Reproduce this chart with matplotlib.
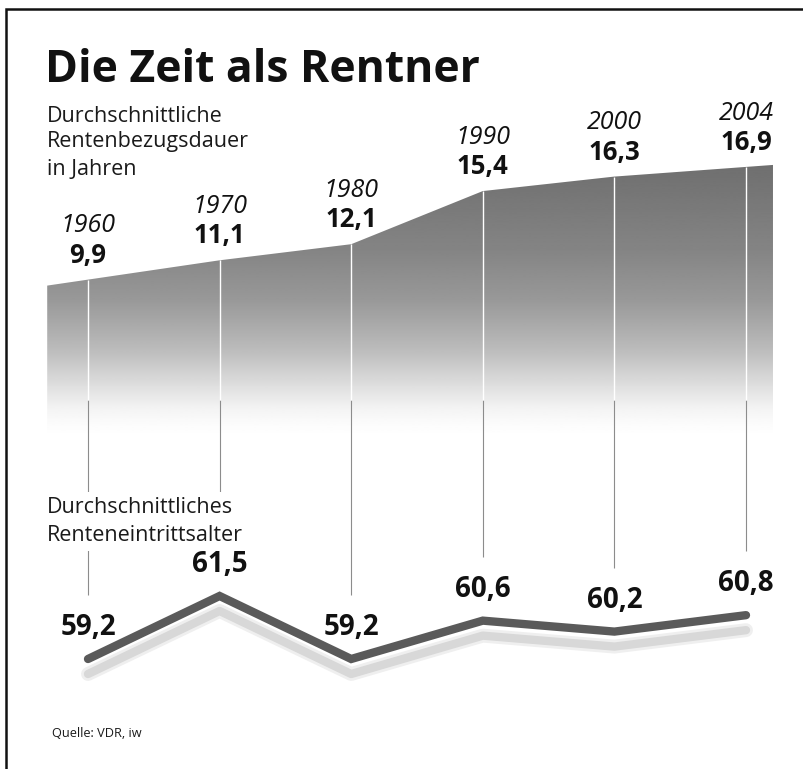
import numpy as np
import matplotlib.pyplot as plt
from matplotlib.lines import Line2D
from matplotlib.transforms import ScaledTranslation

plt.rcParams["font.family"] = ["Open Sans", "DejaVu Sans"]

# Daten
jahre = ["1960", "1970", "1980", "1990", "2000", "2004"]
bezugsdauer = [9.9, 11.1, 12.1, 15.4, 16.3, 16.9]
eintrittsalter = [59.2, 61.5, 59.2, 60.6, 60.2, 60.8]

W, H = 804, 769


def fx(px):
    return px / W


def fy(py):
    return 1 - py / H


fig = plt.figure(figsize=(W / 100, H / 100), dpi=100)
fig.patch.set_facecolor("white")

# Rahmen oben und links
fig.add_artist(Line2D([fx(6.5), fx(6.5), 1.0], [0.0, fy(8.5), fy(8.5)],
                      color="#111111", lw=1.8, solid_joinstyle="miter"))

x = np.arange(len(jahre))
xlim = (-88 / 131.6, 5 + 58 / 131.6)
ylim_up = ((439 - 769) / 16.1, 439 / 16.1)
ylim_low = (59.2 - 110 / 27.4, 59.2 + 659 / 27.4)

ax_up = fig.add_axes([0, 0, 1, 1])
ax_low = fig.add_axes([0, 0, 1, 1])
for ax in (ax_up, ax_low):
    ax.axis("off")
    ax.patch.set_visible(False)

# obere Fläche mit Verlauf
b = np.array(bezugsdauer)
x_l, x_r = -0.31, 5.205
v_l = b[0] + x_l * (b[1] - b[0])
v_r = b[-1] + (x_r - 5) * (b[-1] - b[-2])
xs = np.concatenate([[x_l], x, [x_r]])
tops = np.concatenate([[v_l], b, [v_r]])
v_unten = 0.2
poly = ax_up.fill_between(xs, v_unten, tops, facecolor="none", edgecolor="none")

vs = np.linspace(v_unten, 17.4, 400)
grau = np.interp(vs, [0.2, 1.0, 2.0, 3.2, 5.5, 8.6, 11.7, 17.4],
                 [1.0, 0.985, 0.95, 0.88, 0.74, 0.60, 0.52, 0.43])
img = ax_up.imshow(grau[:, None], extent=[x_l, x_r, v_unten, 17.4], origin="lower",
                   aspect="auto", cmap="gray", vmin=0, vmax=1, zorder=2,
                   interpolation="bilinear")
img.set_clip_path(poly.get_paths()[0], transform=ax_up.transData)

for ax in (ax_up, ax_low):
    ax.set_xlim(*xlim)
ax_up.set_ylim(*ylim_up)
ax_low.set_ylim(*ylim_low)

# senkrechte Linien
fig.canvas.draw()
enden_disp = ax_low.transData.transform(
    np.column_stack([x, np.array(eintrittsalter) + 64 / 27.4]))
enden = ax_up.transData.inverted().transform(enden_disp)[:, 1]
v_wechsel = 2.4
ax_up.vlines(x, enden, v_wechsel, color="#8c8c8c", lw=0.8, zorder=2.5)
ax_up.vlines(x, v_wechsel, b, color="white", lw=1.0, zorder=3)

for xi, v, j in zip(x, bezugsdauer, jahre):
    ax_up.annotate(f"{v:.1f}".replace(".", ","), (xi, v), xytext=(0, 12.2),
                   textcoords="offset points", ha="center", va="baseline",
                   fontsize=18.5, fontweight="bold", color="#111111")
    ax_up.annotate(j, (xi, v), xytext=(0, 34), textcoords="offset points",
                   ha="center", va="baseline", fontsize=18, style="italic",
                   color="#111111")

# untere Linie mit Schatten
schatten = ax_low.transData + ScaledTranslation(0, -0.15, fig.dpi_scale_trans)
ax_low.plot(x, eintrittsalter, color="#efefef", lw=10, transform=schatten,
            solid_capstyle="round", solid_joinstyle="round", zorder=1)
ax_low.plot(x, eintrittsalter, color="#d8d8d8", lw=6, transform=schatten,
            solid_capstyle="round", solid_joinstyle="round", zorder=1)
ax_low.plot(x, eintrittsalter, color="#5a5a5a", lw=6,
            solid_capstyle="round", solid_joinstyle="miter", zorder=3)
for xi, v in zip(x, eintrittsalter):
    ax_low.annotate(f"{v:.1f}".replace(".", ","), (xi, v), xytext=(0, 17.3),
                    textcoords="offset points", ha="center", va="baseline",
                    fontsize=20, fontweight="bold", color="#111111")

# Texte
fig.text(fx(45), fy(82), "Die Zeit als Rentner", fontsize=32, fontweight="bold",
         va="baseline", color="#111111")
for zeile, py in zip(["Durchschnittliche", "Rentenbezugsdauer", "in Jahren"],
                     [122, 147, 175]):
    fig.text(fx(47), fy(py), zeile, fontsize=15.5, va="baseline", color="#1a1a1a")
for zeile, py in zip(["Durchschnittliches", "Renteneintrittsalter"], [513, 541]):
    fig.text(fx(47), fy(py), zeile, fontsize=15.5, va="baseline", color="#1a1a1a",
             bbox=dict(boxstyle="square,pad=0.25", fc="white", ec="none"))
fig.text(fx(52), fy(737), "Quelle: VDR, iw", fontsize=9.2, va="baseline",
         color="#1a1a1a")

fig.savefig("out.png", dpi=100)
